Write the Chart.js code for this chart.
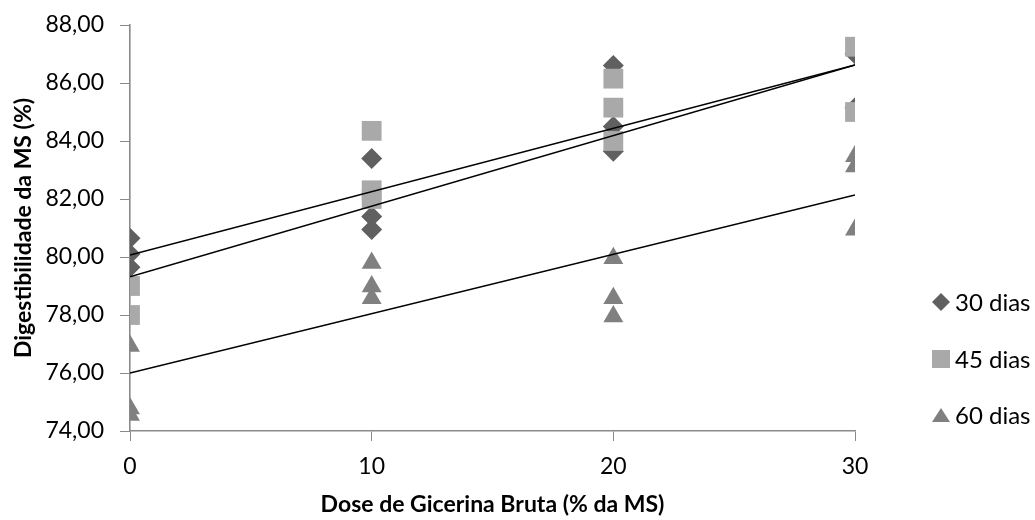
<!DOCTYPE html>
<html lang="pt">
<head>
    <meta charset="UTF-8">
    <title>Digestibilidade da MS</title>
    <script src="https://cdn.jsdelivr.net/npm/chart.js"></script>
    <style>
        body { margin: 0; background: #fff; }
        .chart-container {
            position: relative;
            width: 1035px;
            height: 520px;
        }
        .legend {
            position: absolute;
            left: 931px;
            top: 288px;
            font-family: Lato, sans-serif;
            font-size: 24px;
            color: #000;
            white-space: nowrap;
        }
        .legend-item {
            height: 56.5px;
            display: flex;
            align-items: flex-start;
        }
        .legend-item span.marker {
            width: 20px;
            height: 28px;
            display: inline-block;
            margin-right: 4px;
        }
    </style>
</head>
<body>
    <div class="chart-container">
        <canvas id="digestChart"></canvas>
        <div class="legend" id="legend"></div>
    </div>

    <script>
        // doses de glicerina (eixo x)
        const doses = [0, 10, 20, 30];
        const seriesNames = ['30 dias', '45 dias', '60 dias'];

        // pontos observados por dose
        const dias30 = [
            [0, 80.65], [0, 80.1], [0, 79.65],
            [10, 83.4], [10, 81.4], [10, 80.95],
            [20, 86.6], [20, 84.5], [20, 83.65],
            [30, 87.0], [30, 85.15]
        ];
        const dias45 = [
            [0, 79.0], [0, 78.0],
            [10, 84.35], [10, 82.3], [10, 82.0],
            [20, 86.15], [20, 85.15], [20, 84.0],
            [30, 87.25], [30, 85.0]
        ];
        const dias60 = [
            [0, 76.93], [0, 74.78], [0, 74.55],
            [10, 79.79], [10, 78.98], [10, 78.58],
            [20, 79.96], [20, 78.58], [20, 77.95],
            [30, 83.47], [30, 83.12], [30, 80.94]
        ];

        // linhas de tendência (inicio em 0, fim em 30)
        const trend30 = [80.07, 86.62];
        const trend45 = [79.32, 86.62];
        const trend60 = [76.0, 82.14];

        const yTicks = [74, 76, 78, 80, 82, 84, 86, 88];

        const colors = ['#606060', '#a9a9a9', '#808080'];
        const shapes = ['rectRot', 'rect', 'triangle'];
        const radii = [10.5, 14, 11.5];

        const toXY = arr => arr.map(p => ({ x: p[0], y: p[1] }));
        const trendXY = t => [{ x: doses[0], y: t[0] }, { x: doses[doses.length - 1], y: t[1] }];

        const pointSets = [dias30, dias45, dias60];
        const trends = [trend30, trend45, trend60];
        const drawOrder = [2, 1, 3];

        const datasets = [];
        pointSets.forEach((set, i) => {
            datasets.push({
                label: seriesNames[i],
                data: toXY(set),
                showLine: false,
                pointStyle: shapes[i],
                pointRadius: radii[i],
                pointHoverRadius: radii[i],
                backgroundColor: colors[i],
                borderColor: colors[i],
                borderWidth: 0,
                order: drawOrder[i]
            });
        });
        trends.forEach((t, i) => {
            datasets.push({
                label: 'trend ' + seriesNames[i],
                data: trendXY(t),
                showLine: true,
                pointRadius: 0,
                borderColor: '#000',
                borderWidth: 1.6,
                order: 0
            });
        });

        const axisColor = '#8a8a8a';
        const fontFamily = 'Lato, sans-serif';

        const ctx = document.getElementById('digestChart').getContext('2d');
        new Chart(ctx, {
            type: 'scatter',
            data: { datasets: datasets },
            options: {
                responsive: true,
                maintainAspectRatio: false,
                animation: false,
                layout: { padding: { top: 25, right: 180, bottom: 2, left: 7 } },
                plugins: {
                    legend: { display: false },
                    tooltip: { enabled: false }
                },
                scales: {
                    x: {
                        type: 'linear',
                        min: doses[0],
                        max: doses[doses.length - 1],
                        afterBuildTicks: axis => { axis.ticks = doses.map(v => ({ value: v })); },
                        afterFit: axis => { axis.height = 87; },
                        grid: { drawOnChartArea: false, drawTicks: true, tickLength: 10, color: axisColor },
                        border: { color: axisColor, width: 1.6 },
                        ticks: { color: '#000', font: { family: fontFamily, size: 23 }, padding: 12, maxRotation: 0 },
                        title: {
                            display: true,
                            text: 'Dose de Gicerina Bruta (% da MS)',
                            color: '#000',
                            font: { family: fontFamily, size: 23, weight: 'bold' },
                            padding: { top: 10, bottom: 0 }
                        }
                    },
                    y: {
                        min: yTicks[0],
                        max: yTicks[yTicks.length - 1],
                        afterBuildTicks: axis => { axis.ticks = yTicks.map(v => ({ value: v })); },
                        afterFit: axis => {
                            axis.width = 123;
                            axis.paddingTop = 0;
                            axis.paddingBottom = 0;
                        },
                        grid: { drawOnChartArea: false, drawTicks: true, tickLength: 10, color: axisColor },
                        border: { color: axisColor, width: 1.6 },
                        ticks: {
                            color: '#000',
                            font: { family: fontFamily, size: 23 },
                            padding: 16,
                            callback: v => v.toFixed(2).replace('.', ',')
                        },
                        title: {
                            display: true,
                            text: 'Digestibilidade da MS (%)',
                            color: '#000',
                            font: { family: fontFamily, size: 23, weight: 'bold' },
                            padding: { top: 3, bottom: 4 }
                        }
                    }
                }
            }
        });

        // legenda em HTML, montada a partir das séries
        const markerSvg = [
            '<svg width="20" height="28"><polygon points="10,5 19,14 10,23 1,14" fill="' + colors[0] + '"/></svg>',
            '<svg width="20" height="28"><rect x="1" y="5" width="18" height="18" fill="' + colors[1] + '"/></svg>',
            '<svg width="20" height="28"><polygon points="10,7 19,21 1,21" fill="' + colors[2] + '"/></svg>'
        ];
        const legendEl = document.getElementById('legend');
        seriesNames.forEach((name, i) => {
            const item = document.createElement('div');
            item.className = 'legend-item';
            item.innerHTML = '<span class="marker">' + markerSvg[i] + '</span><span style="line-height:28px">' + name + '</span>';
            legendEl.appendChild(item);
        });
    </script>
</body>
</html>
